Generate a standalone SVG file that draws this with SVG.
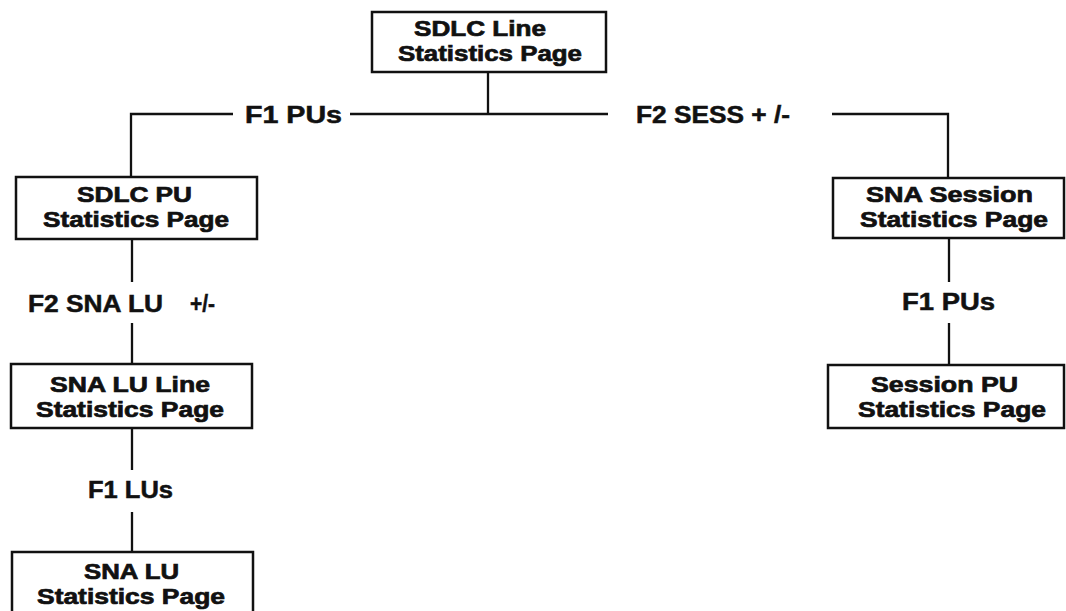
<svg xmlns="http://www.w3.org/2000/svg" width="1066" height="611" viewBox="0 0 1066 611">
<style>
.box{fill:#fff;stroke:#111;stroke-width:2.5}
.t{font-family:"Liberation Sans",Arial,sans-serif;font-weight:bold;font-size:22px;fill:#111;stroke:#111;stroke-width:0.7}
.l{font-family:"Liberation Sans",Arial,sans-serif;font-weight:bold;font-size:23px;fill:#111;stroke:#111;stroke-width:0.5}
.c{fill:none;stroke:#111;stroke-width:2.3}
</style>
<rect width="1066" height="611" fill="#fff"/>
<g id="connectors">
<path class="c" d="M488 72V114"/>
<path class="c" d="M233 114H131V177"/>
<path class="c" d="M350 114H608"/>
<path class="c" d="M832 114H948V178"/>
<path class="c" d="M132 239V282M132 323V364M132 428V470M132 512V552"/>
<path class="c" d="M949 238V282M949 323V365"/>
</g>
<g id="labels">
<text class="l" x="245" y="123" textLength="97" lengthAdjust="spacingAndGlyphs">F1 PUs</text>
<text class="l" x="636" y="123" textLength="154" lengthAdjust="spacingAndGlyphs">F2 SESS + /-</text>
<text class="l" x="28" y="312" textLength="135" lengthAdjust="spacingAndGlyphs">F2 SNA LU</text>
<text class="l" x="190" y="312" textLength="25" lengthAdjust="spacingAndGlyphs">+/-</text>
<text class="l" x="88" y="498" textLength="85" lengthAdjust="spacingAndGlyphs">F1 LUs</text>
<text class="l" x="902" y="310" textLength="93" lengthAdjust="spacingAndGlyphs">F1 PUs</text>
</g>
<g id="sdlc-line">
<rect class="box" x="372" y="12" width="234" height="60"/>
<text class="t"><tspan x="414" y="36" textLength="132" lengthAdjust="spacingAndGlyphs">SDLC Line</tspan><tspan x="398" y="61" textLength="184" lengthAdjust="spacingAndGlyphs">Statistics Page</tspan></text>
</g>
<g id="sdlc-pu">
<rect class="box" x="16" y="177" width="241" height="62"/>
<text class="t"><tspan x="77" y="202" textLength="115" lengthAdjust="spacingAndGlyphs">SDLC PU</tspan><tspan x="43" y="227" textLength="186" lengthAdjust="spacingAndGlyphs">Statistics Page</tspan></text>
</g>
<g id="sna-session">
<rect class="box" x="833" y="178" width="231" height="60"/>
<text class="t"><tspan x="866" y="202" textLength="167" lengthAdjust="spacingAndGlyphs">SNA Session</tspan><tspan x="860" y="227" textLength="188" lengthAdjust="spacingAndGlyphs">Statistics Page</tspan></text>
</g>
<g id="sna-lu-line">
<rect class="box" x="11" y="364" width="241" height="64"/>
<text class="t"><tspan x="50" y="392" textLength="160" lengthAdjust="spacingAndGlyphs">SNA LU Line</tspan><tspan x="36" y="417" textLength="188" lengthAdjust="spacingAndGlyphs">Statistics Page</tspan></text>
</g>
<g id="session-pu">
<rect class="box" x="828" y="365" width="236" height="63"/>
<text class="t"><tspan x="871" y="392" textLength="147" lengthAdjust="spacingAndGlyphs">Session PU</tspan><tspan x="858" y="417" textLength="188" lengthAdjust="spacingAndGlyphs">Statistics Page</tspan></text>
</g>
<g id="sna-lu">
<rect class="box" x="12" y="552" width="241" height="64"/>
<text class="t"><tspan x="84" y="579" textLength="95" lengthAdjust="spacingAndGlyphs">SNA LU</tspan><tspan x="37" y="604" textLength="188" lengthAdjust="spacingAndGlyphs">Statistics Page</tspan></text>
</g>
</svg>
